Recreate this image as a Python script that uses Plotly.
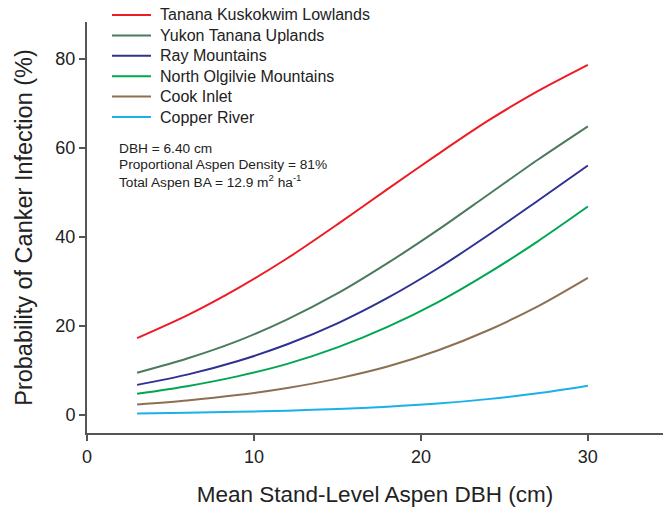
import plotly.graph_objects as go

# Mean stand-level aspen DBH (cm)
dbh = [3, 6, 9, 12, 15, 18, 21, 24, 27, 30]

# Predicted probability of canker infection (%) by ecoregion
tanana_kuskokwim = [17.3, 22.4, 28.4, 35.2, 42.8, 50.7, 58.5, 66.0, 72.7, 78.6]
yukon_tanana = [9.5, 12.7, 16.6, 21.5, 27.3, 34.1, 41.5, 49.4, 57.3, 64.8]
ray_mountains = [6.8, 9.1, 12.1, 15.9, 20.6, 26.3, 32.9, 40.3, 48.1, 56.0]
north_olgilvie = [4.8, 6.5, 8.7, 11.5, 15.2, 19.8, 25.3, 31.8, 39.0, 46.8]
cook_inlet = [2.4, 3.3, 4.5, 6.1, 8.2, 10.9, 14.5, 19.0, 24.4, 30.8]
copper_river = [0.4, 0.55, 0.75, 1.0, 1.4, 1.9, 2.6, 3.6, 4.9, 6.6]

series = [
    ("Tanana Kuskokwim Lowlands", tanana_kuskokwim, "#ED1C24"),
    ("Yukon Tanana Uplands", yukon_tanana, "#4B7B5E"),
    ("Ray Mountains", ray_mountains, "#2E3192"),
    ("North Olgilvie Mountains", north_olgilvie, "#00A651"),
    ("Cook Inlet", cook_inlet, "#8C7053"),
    ("Copper River", copper_river, "#1CAFE8"),
]

x_ticks = [0, 10, 20, 30]
y_ticks = [0, 20, 40, 60, 80]

FONT = "Arial, Liberation Sans, sans-serif"
TEXT = "#222222"
AXIS = "#555555"

W, H = 663, 516
ML, MR, MT, MB = 87, 0, 22, 83
PW, PH = W - ML - MR, H - MT - MB


def px(xp):
    """Pixel column -> paper x."""
    return (xp - ML) / PW


def py(yp):
    """Pixel row (from top) -> paper y."""
    return (H - MB - yp) / PH


fig = go.Figure()
for name, vals, color in series:
    fig.add_trace(go.Scatter(
        x=dbh, y=vals, name=name, mode="lines", showlegend=False,
        line=dict(color=color, width=2, shape="spline", smoothing=0.8),
    ))

fig.update_layout(
    width=W, height=H,
    margin=dict(l=ML, r=MR, t=MT, b=MB, pad=0),
    paper_bgcolor="white", plot_bgcolor="white",
    font=dict(family=FONT, color=TEXT),
    xaxis=dict(
        range=[0, 34.5], tickvals=x_ticks, ticks="outside", ticklen=6,
        tickwidth=1.5, tickcolor=AXIS, showline=True, linecolor=AXIS,
        linewidth=2, showgrid=False, zeroline=False,
        tickfont=dict(size=18, family=FONT, color=TEXT),
        title=dict(text="Mean Stand-Level Aspen DBH (cm)", standoff=21,
                   font=dict(size=22.5, family=FONT, color=TEXT)),
    ),
    yaxis=dict(
        range=[-4, 88.2], tickvals=y_ticks, ticks="outside", ticklen=6,
        tickwidth=1.5, tickcolor=AXIS, showline=True, linecolor=AXIS,
        linewidth=2, showgrid=False, zeroline=False,
        tickfont=dict(size=18, family=FONT, color=TEXT),
        title=dict(text="Probability of Canker Infection (%)", standoff=16,
                   font=dict(size=23.5, family=FONT, color=TEXT)),
    ),
)

# Legend: short line sample followed by the ecoregion name
row0, row_gap = 15, 20.4
for i, (name, _, color) in enumerate(series):
    yr = py(row0 + row_gap * i)
    fig.add_shape(type="line", xref="paper", yref="paper",
                  x0=px(112), x1=px(151), y0=yr, y1=yr,
                  line=dict(color=color, width=2))
    fig.add_annotation(text=name, xref="paper", yref="paper",
                       x=px(158), y=yr, xanchor="left", yanchor="middle",
                       showarrow=False,
                       font=dict(size=16, family=FONT, color=TEXT))

# Model covariates held constant
notes = [
    "DBH = 6.40 cm",
    "Proportional Aspen Density = 81%",
    "Total Aspen BA = 12.9 m<sup>2</sup> ha<sup>-1</sup>",
]
for i, txt in enumerate(notes):
    fig.add_annotation(
        text=txt, xref="paper", yref="paper",
        x=px(117), y=py(148 + 16.3 * i),
        xanchor="left", yanchor="middle", showarrow=False,
        font=dict(size=13.7, family=FONT, color=TEXT),
    )

fig.write_html("out.html")
